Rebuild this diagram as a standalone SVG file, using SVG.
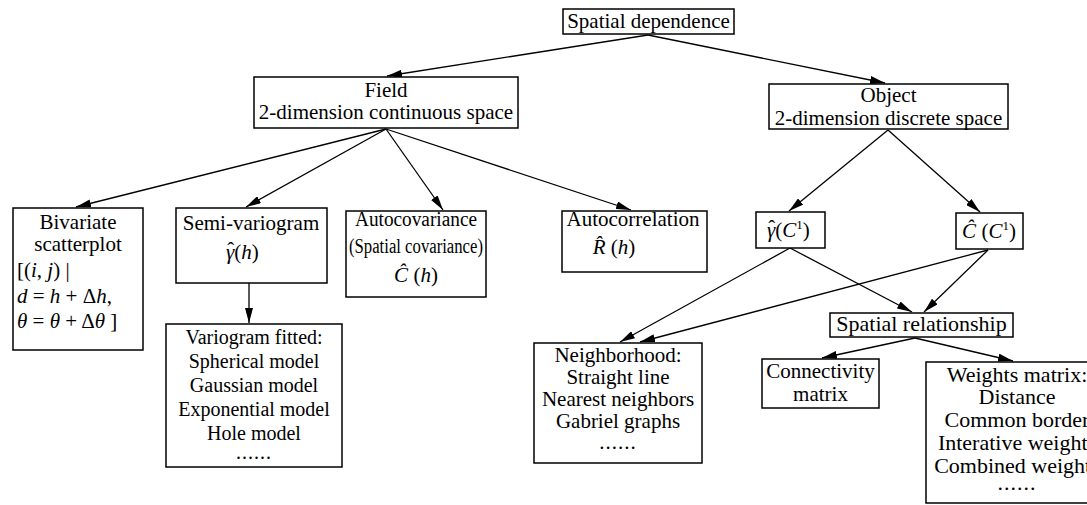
<svg xmlns="http://www.w3.org/2000/svg" width="1087" height="505" viewBox="0 0 1087 505">
<defs>
<marker id="ah" viewBox="0 0 15 8" refX="15" refY="4" markerWidth="15" markerHeight="8" markerUnits="userSpaceOnUse" orient="auto">
<path d="M0,0 L15,4 L0,8 Z" fill="#000"/>
</marker>
<style>
.box{fill:#fff;stroke:#000;stroke-width:1.5}
text{font-family:"Liberation Serif","Times New Roman",serif;font-size:21px;fill:#000}
.c{text-anchor:middle}
.i{font-style:italic}
.s20{font-size:20px}
.s22{font-size:22px}
.dots{letter-spacing:1px}
.e{stroke:#000;stroke-width:1.3;fill:none;marker-end:url(#ah)}
</style>
</defs>
<rect width="1087" height="505" fill="#fff"/>
<g id="connectors">
<line class="e" x1="648" y1="35" x2="387" y2="76"/>
<line class="e" x1="648" y1="35" x2="885" y2="83"/>
<line class="e" x1="386" y1="129" x2="76" y2="207"/>
<line class="e" x1="386" y1="129" x2="246" y2="207"/>
<line class="e" x1="386" y1="129" x2="443" y2="210"/>
<line class="e" x1="386" y1="129" x2="631" y2="210"/>
<line class="e" x1="888" y1="130" x2="789" y2="211"/>
<line class="e" x1="888" y1="130" x2="980" y2="212"/>
<line class="e" x1="249" y1="283" x2="249" y2="323"/>
<line class="e" x1="790" y1="248" x2="620" y2="342"/>
<line class="e" x1="790" y1="248" x2="912" y2="312"/>
<line class="e" x1="988" y1="250" x2="640" y2="342"/>
<line class="e" x1="988" y1="250" x2="924" y2="312"/>
<line class="e" x1="915" y1="338" x2="822" y2="358"/>
<line class="e" x1="915" y1="338" x2="1013" y2="361"/>
</g>
<g id="n-spatial">
<rect class="box" x="563" y="9" width="171" height="25"/>
<text class="c" x="648.5" y="28">Spatial dependence</text>
</g>
<g id="n-field">
<rect class="box" x="254" y="77" width="264" height="51"/>
<text class="c" x="386" y="97">Field</text>
<text class="c" x="386" y="119">2-dimension continuous space</text>
</g>
<g id="n-object">
<rect class="box" x="769" y="84" width="239" height="45"/>
<text class="c" x="888.5" y="102">Object</text>
<text class="c" x="888.5" y="125">2-dimension discrete space</text>
</g>
<g id="n-bivariate">
<rect class="box" x="13" y="208" width="130" height="142"/>
<text class="c" x="78" y="229">Bivariate</text>
<text class="c" x="78" y="251">scatterplot</text>
<text x="17" y="277">[(<tspan class="i">i</tspan>, <tspan class="i">j</tspan>) |</text>
<text x="17" y="303"><tspan class="i">d</tspan> = <tspan class="i">h</tspan> + Δ<tspan class="i">h</tspan>,</text>
<text x="17" y="328"><tspan class="i">θ</tspan> = <tspan class="i">θ</tspan> + Δ<tspan class="i">θ</tspan> ]</text>
</g>
<g id="n-semivariogram">
<rect class="box" x="176" y="208" width="151" height="75"/>
<text class="c" x="251" y="230">Semi-variogram</text>
<text x="226" y="259"><tspan class="i">γ</tspan><tspan dx="-7" dy="-2">ˆ</tspan><tspan dy="2">(</tspan><tspan class="i">h</tspan>)</text>
</g>
<g id="n-autocovariance">
<rect class="box" x="346" y="211" width="140" height="86"/>
<text class="c s20" x="416" y="226" textLength="122" lengthAdjust="spacingAndGlyphs">Autocovariance</text>
<text class="c s20" x="416" y="253" textLength="134" lengthAdjust="spacingAndGlyphs">(Spatial covariance)</text>
<text class="c" x="416" y="282"><tspan class="i">Ĉ</tspan> (<tspan class="i">h</tspan>)</text>
</g>
<g id="n-autocorrelation">
<rect class="box" x="562" y="211" width="145" height="61"/>
<text class="c" x="633" y="226">Autocorrelation</text>
<text class="c" x="614" y="254"><tspan class="i">R̂</tspan> (<tspan class="i">h</tspan>)</text>
</g>
<g id="n-gammac">
<rect class="box" x="756" y="212" width="69" height="36"/>
<text x="767" y="237"><tspan class="i">γ</tspan><tspan dx="-7" dy="-2">ˆ</tspan><tspan dy="2">(</tspan><tspan class="i">C</tspan><tspan font-size="13" dy="-8">1</tspan><tspan dy="8">)</tspan></text>
</g>
<g id="n-chatc">
<rect class="box" x="956" y="213" width="67" height="36"/>
<text class="c" x="989" y="238"><tspan class="i">Ĉ</tspan> (<tspan class="i">C</tspan><tspan font-size="13" dy="-8">1</tspan><tspan dy="8">)</tspan></text>
</g>
<g id="n-variogram">
<rect class="box" x="166" y="324" width="176" height="143"/>
<text class="c s20" x="254" y="344">Variogram fitted:</text>
<text class="c s20" x="254" y="368">Spherical model</text>
<text class="c s20" x="254" y="392">Gaussian model</text>
<text class="c s20" x="254" y="416">Exponential model</text>
<text class="c s20" x="254" y="440">Hole model</text>
<text class="c s20 dots" x="254" y="459">......</text>
</g>
<g id="n-neighborhood">
<rect class="box" x="534" y="343" width="168" height="120"/>
<text class="c" x="618" y="362">Neighborhood:</text>
<text class="c" x="618" y="384">Straight line</text>
<text class="c" x="618" y="406">Nearest neighbors</text>
<text class="c" x="618" y="428">Gabriel graphs</text>
<text class="c dots" x="618" y="449">......</text>
</g>
<g id="n-spatialrel">
<rect class="box" x="830" y="313" width="183" height="24"/>
<text class="c s22" x="921.5" y="331">Spatial relationship</text>
</g>
<g id="n-connectivity">
<rect class="box" x="762" y="359" width="117" height="49"/>
<text class="c" x="820.5" y="378">Connectivity</text>
<text class="c" x="820.5" y="401">matrix</text>
</g>
<g id="n-weights">
<rect class="box" x="926" y="362" width="185" height="141"/>
<text class="c s22" x="1017" y="382">Weights matrix:</text>
<text class="c s22" x="1017" y="404">Distance</text>
<text class="c s22" x="1017" y="427">Common border</text>
<text class="c s22" x="1017" y="450">Interative weights</text>
<text class="c s22" x="1017" y="473">Combined weights</text>
<text class="c s22 dots" x="1017" y="490">......</text>
</g>
</svg>
